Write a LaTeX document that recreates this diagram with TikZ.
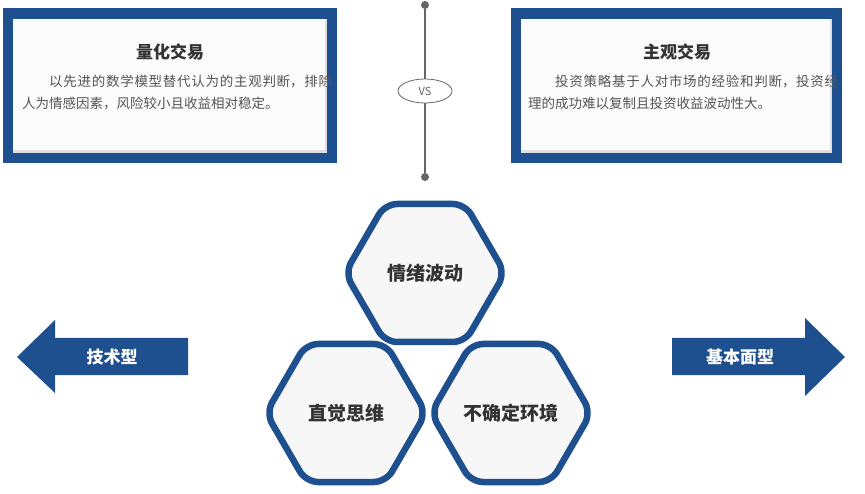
\documentclass[tikz,border=0pt]{standalone}
\usepackage{fontspec}
\setmainfont{Noto Sans CJK SC}
\XeTeXlinebreaklocale "zh"
\XeTeXlinebreakskip=0pt plus 1pt
\usetikzlibrary{calc,shapes.geometric}
\definecolor{bl}{HTML}{1E4F8F}
\definecolor{tx}{HTML}{333333}
\definecolor{gt}{HTML}{555555}
\tikzset{
  hexa/.style={draw=bl,line width=6.5pt,fill=gray!6,rounded corners=12pt},
  hext/.style={font=\fontsize{19pt}{22pt}\selectfont\bfseries,text=tx},
  ttl/.style={font=\fontsize{17pt}{20pt}\selectfont\bfseries,text=tx},
  body/.style={font=\fontsize{13.5pt}{22pt}\selectfont,text=gt,text width=310pt,align=justify,inner sep=0pt},
  arr/.style={fill=bl},
  arrt/.style={font=\fontsize{17pt}{20pt}\selectfont\bfseries,text=white},
  dot/.style={circle,fill=gray!80!black,inner sep=0pt,minimum size=8pt}
}
\newcommand{\hexagon}[3]{%
  \draw[hexa] ($(#1)+(-80,0)$) -- ($(#1)+(-40,-69)$) -- ($(#1)+(40,-69)$) -- ($(#1)+(80,0)$) -- ($(#1)+(40,69)$) -- ($(#1)+(-40,69)$) -- cycle;
  \node[hext] (#3) at (#1) {#2};}
\begin{document}
\begin{tikzpicture}[x=1pt,y=-1pt]
\useasboundingbox (0,0) rectangle (865,494);
% boxes
\foreach \x/\w in {3/334,511/331}{
  \fill[bl] (\x,8) rectangle ++(\w,155);
  \fill[gray!25] (\x+10,19) rectangle ++(\w-20,134);
  \fill[gray!3] (\x+10,19) rectangle ++(\w-22,131);
}
\node[ttl] (t1) at (170,52) {量化交易};
\node[body,anchor=north west] (b1) at (22,75) {\hspace*{2em}以先进的数学模型替代认为的主观判断，排除人为情感因素，风险较小且收益相对稳定。};
\node[ttl] (t2) at (677,52) {主观交易};
\node[body,anchor=north west] (b2) at (528,75) {\hspace*{2em}投资策略基于人对市场的经验和判断，投资经理的成功难以复制且投资收益波动性大。};
% vs line
\node[dot] (d1) at (425,5) {};
\node[dot] (d2) at (425,177) {};
\draw[gray!80!black,line width=1.2pt] (d1) -- (d2);
\node[draw=gray!80!black,line width=0.8pt,fill=white,ellipse,minimum width=54pt,minimum height=24pt,inner sep=0pt,font=\fontsize{11pt}{12pt}\selectfont,text=gray!80!black] (vs) at (425,91) {VS};
% arrows
\fill[arr] (17,357) -- (55,320) -- (55,338) -- (188,338) -- (188,375) -- (55,375) -- (55,393) -- cycle;
\node[arrt] (a1) at (112,357) {技术型};
\fill[arr] (845,357) -- (805,318) -- (805,338) -- (672,338) -- (672,375) -- (805,375) -- (805,396) -- cycle;
\node[arrt] (a2) at (740,357) {基本面型};
% hexagons
\coordinate (h1) at (425,273);
\coordinate (h2) at (346,413);
\coordinate (h3) at (511,413);
\hexagon{h1}{情绪波动}{n1}
\hexagon{h2}{直觉思维}{n2}
\hexagon{h3}{不确定环境}{n3}
\end{tikzpicture}
\end{document}
